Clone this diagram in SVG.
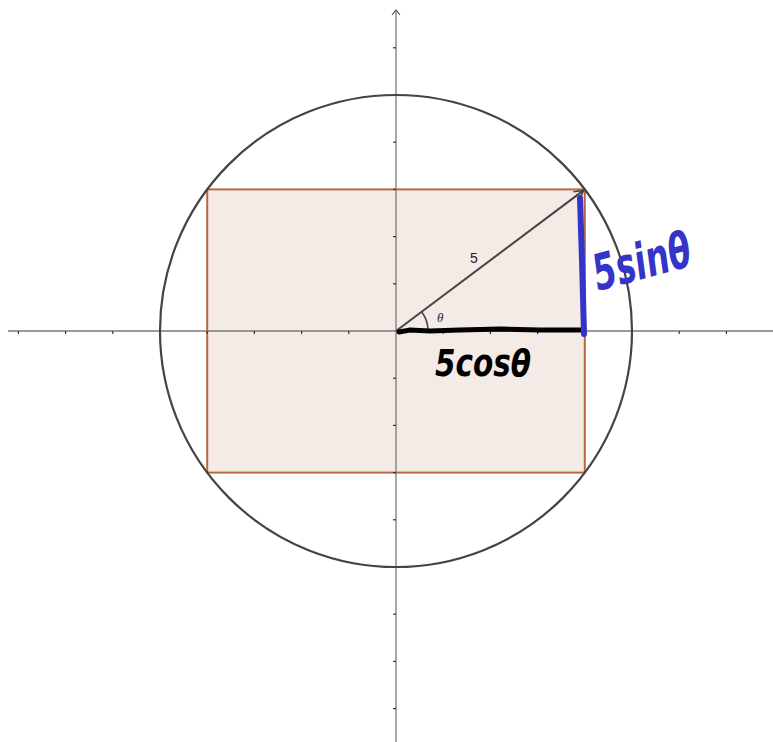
<svg xmlns="http://www.w3.org/2000/svg" width="773" height="742" viewBox="0 0 773 742">
<defs>
<style>
.axis{stroke:#7a7a7a;stroke-width:1.3;fill:none}
.tick{stroke:#333;stroke-width:1.2}
.ink-k{stroke:#000;stroke-linecap:round;fill:none}
.ink-b{stroke:#3434c8;stroke-linecap:round;fill:none}
</style>
<marker id="vec" markerWidth="12" markerHeight="12" refX="10" refY="6" orient="auto" markerUnits="userSpaceOnUse">
<path d="M1,1 L10,6 L1,11" fill="none" stroke="#4a4242" stroke-width="1.6"/>
</marker>
</defs>
<rect width="773" height="742" fill="#fff"/>
<g id="rectangle">
<rect x="207.2" y="189.4" width="377.6" height="283.2" fill="#f4ebe6" stroke="#b8683f" stroke-width="2"/>
</g>
<g id="axes">
<line class="axis" x1="8" y1="331" x2="773" y2="331"/>
<line class="axis" x1="396" y1="10" x2="396" y2="742"/>
<path d="M392,15 L396,10 L400,15" fill="none" stroke="#555" stroke-width="1.2"/>
<g class="tick">
<line x1="18.4" y1="331" x2="18.4" y2="334"/>
<line x1="65.6" y1="331" x2="65.6" y2="334"/>
<line x1="112.8" y1="331" x2="112.8" y2="334"/>
<line x1="160" y1="331" x2="160" y2="334"/>
<line x1="207.2" y1="331" x2="207.2" y2="334"/>
<line x1="254.4" y1="331" x2="254.4" y2="334"/>
<line x1="301.6" y1="331" x2="301.6" y2="334"/>
<line x1="348.8" y1="331" x2="348.8" y2="334"/>
<line x1="443.2" y1="331" x2="443.2" y2="334"/>
<line x1="490.4" y1="331" x2="490.4" y2="334"/>
<line x1="537.6" y1="331" x2="537.6" y2="334"/>
<line x1="584.8" y1="331" x2="584.8" y2="334"/>
<line x1="632" y1="331" x2="632" y2="334"/>
<line x1="679.2" y1="331" x2="679.2" y2="334"/>
<line x1="726.4" y1="331" x2="726.4" y2="334"/>
<line x1="393" y1="47.8" x2="396" y2="47.8"/>
<line x1="393" y1="95" x2="396" y2="95"/>
<line x1="393" y1="142.2" x2="396" y2="142.2"/>
<line x1="393" y1="189.4" x2="396" y2="189.4"/>
<line x1="393" y1="236.6" x2="396" y2="236.6"/>
<line x1="393" y1="283.8" x2="396" y2="283.8"/>
<line x1="393" y1="378.2" x2="396" y2="378.2"/>
<line x1="393" y1="425.4" x2="396" y2="425.4"/>
<line x1="393" y1="472.6" x2="396" y2="472.6"/>
<line x1="393" y1="519.8" x2="396" y2="519.8"/>
<line x1="393" y1="567" x2="396" y2="567"/>
<line x1="393" y1="614.2" x2="396" y2="614.2"/>
<line x1="393" y1="661.4" x2="396" y2="661.4"/>
<line x1="393" y1="708.6" x2="396" y2="708.6"/>
</g>
</g>
<g id="circle">
<circle cx="396" cy="331" r="236" fill="none" stroke="#444" stroke-width="2.2"/>
</g>
<g id="vector">
<line x1="396" y1="331" x2="583.5" y2="190.4" stroke="#4a4242" stroke-width="2" marker-end="url(#vec)"/>
<path d="M428,331 A32,32 0 0 0 421.6,311.8" fill="none" stroke="#4a4242" stroke-width="1.6"/>
<text x="437" y="322" font-family="'Liberation Serif',serif" font-style="italic" font-size="13" fill="#222">θ</text>
<text x="470" y="263" font-family="'Liberation Sans',sans-serif" font-size="14" fill="#222">5</text>
</g>
<g id="annotations">
<path class="ink-k" d="M399,332 L410,330 L430,331 L460,330 L500,329 L540,330 L584,330" stroke-width="5"/>
<text x="435" y="376" font-family="'DejaVu Sans',sans-serif" font-style="oblique" font-weight="bold" font-size="38" fill="#000" textLength="96" lengthAdjust="spacingAndGlyphs">5cosθ</text>
<path class="ink-b" d="M580,198 L582,260 L584,334" stroke-width="6"/>
<text x="0" y="0" transform="translate(598,291) rotate(-15)" font-family="'DejaVu Sans',sans-serif" font-style="oblique" font-weight="bold" font-size="50" fill="#3434c8" textLength="100" lengthAdjust="spacingAndGlyphs">5sinθ</text>
</g>
</svg>
